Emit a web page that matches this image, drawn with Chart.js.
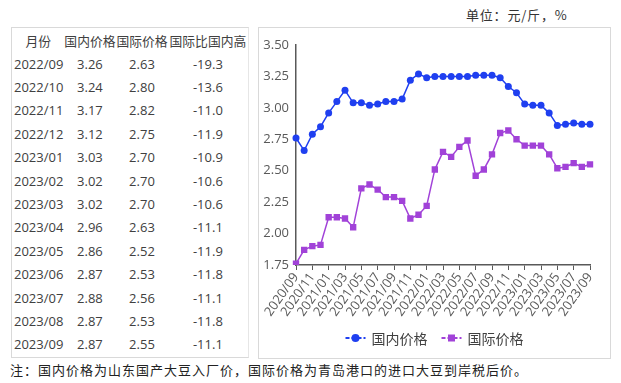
<!DOCTYPE html>
<html>
<head>
<meta charset="utf-8">
<script src="https://cdn.jsdelivr.net/npm/chart.js@4.4.1/dist/chart.umd.min.js"></script>
<style>
  html, body { margin: 0; padding: 0; background: #fff; }
  body { width: 621px; height: 383px; position: relative; overflow: hidden;
         font-family: "Open Sans", "Noto Sans CJK SC", sans-serif; color: #404040; }
  #unit { position: absolute; left: 466px; top: 5px; font-size: 13px; letter-spacing: 0.8px;
          font-family: "Noto Sans CJK SC", sans-serif; color: #333; }
  #note { position: absolute; left: 10px; top: 360px; font-size: 13px; letter-spacing: 1px;
          font-family: "Noto Sans CJK SC", sans-serif; color: #222; }
  #tableBox { position: absolute; left: 11px; top: 27px; width: 238px; height: 331px;
              border: 1px solid #d9d9d9; border-right-color: #e6e6e6; box-sizing: border-box; }
  #priceTable { position: absolute; left: 1px; top: 0px; border-collapse: collapse; font-size: 13px; }
  #priceTable td, #priceTable th { padding: 0; height: 23.4px; font-weight: normal; white-space: nowrap; }
  #priceTable th { font-family: "Noto Sans CJK SC", sans-serif; font-size: 12.8px; height: 24px; }
  #chartBox { position: absolute; left: 258px; top: 27px; width: 353px; height: 332px;
              border: 1px solid #d9d9d9; box-sizing: border-box; }
  #chartBox canvas { position: absolute; left: 0; top: 0; }
</style>
</head>
<body>
<div id="unit">单位：元/斤，%</div>
<div id="tableBox"><table id="priceTable"></table></div>
<div id="chartBox"><canvas id="priceChart" width="351" height="330"></canvas></div>
<div id="note">注：国内价格为山东国产大豆入厂价，国际价格为青岛港口的进口大豆到岸税后价。</div>

<script>
// --- TABLE DATA ---
const tableHeaders = ['月份', '国内价格', '国际价格', '国际比国内高'];
const tableMonths = ['2022/09', '2022/10', '2022/11', '2022/12', '2023/01', '2023/02', '2023/03',
                     '2023/04', '2023/05', '2023/06', '2023/07', '2023/08', '2023/09'];
const tableDomestic = ['3.26', '3.24', '3.17', '3.12', '3.03', '3.02', '3.02', '2.96', '2.86', '2.87', '2.88', '2.87', '2.87'];
const tableIntl = ['2.63', '2.80', '2.82', '2.75', '2.70', '2.70', '2.70', '2.63', '2.52', '2.53', '2.56', '2.53', '2.55'];
const tableDiff = ['-19.3', '-13.6', '-11.0', '-11.9', '-10.9', '-10.6', '-10.6', '-11.1', '-11.9', '-11.8', '-11.1', '-11.8', '-11.1'];

// --- CHART DATA ---
const months = ['2020/09', '2020/10', '2020/11', '2020/12', '2021/01', '2021/02', '2021/03', '2021/04',
                '2021/05', '2021/06', '2021/07', '2021/08', '2021/09', '2021/10', '2021/11', '2021/12',
                '2022/01', '2022/02', '2022/03', '2022/04', '2022/05', '2022/06', '2022/07', '2022/08',
                '2022/09', '2022/10', '2022/11', '2022/12', '2023/01', '2023/02', '2023/03', '2023/04',
                '2023/05', '2023/06', '2023/07', '2023/08', '2023/09'];
const domesticPrice = [2.76, 2.66, 2.79, 2.85, 2.96, 3.05, 3.14, 3.04, 3.04, 3.02, 3.03, 3.05, 3.05,
                       3.07, 3.22, 3.27, 3.24, 3.25, 3.25, 3.25, 3.25, 3.25, 3.26, 3.26,
                       3.26, 3.24, 3.17, 3.12, 3.03, 3.02, 3.02, 2.96, 2.86, 2.87, 2.88, 2.87, 2.87];
const intlPrice = [1.76, 1.87, 1.90, 1.91, 2.13, 2.13, 2.12, 2.05, 2.36, 2.39, 2.35, 2.29, 2.29,
                   2.26, 2.12, 2.15, 2.22, 2.51, 2.65, 2.61, 2.69, 2.74, 2.46, 2.51,
                   2.63, 2.80, 2.82, 2.75, 2.70, 2.70, 2.70, 2.63, 2.52, 2.53, 2.56, 2.53, 2.55];

const BLUE = '#1f3ff0';
const PURPLE = '#a142d8';
const AXIS = '#595959';

// --- BUILD TABLE ---
const table = document.getElementById('priceTable');
const colWidths = [51, 54, 52, 84];
let html = '<tr>' + tableHeaders.map((h, i) =>
    `<th style="width:${colWidths[i]}px;text-align:center">${h}</th>`).join('') + '</tr>';
tableMonths.forEach((m, i) => {
    html += `<tr><td style="text-align:left;padding-left:1px">${m}</td>` +
            `<td style="text-align:center">${tableDomestic[i]}</td>` +
            `<td style="text-align:center">${tableIntl[i]}</td>` +
            `<td style="text-align:center">${tableDiff[i]}</td></tr>`;
});
table.innerHTML = html;

// --- LEGEND: line + marker, drawn under the x axis ---
const lineLegend = {
    id: 'lineLegend',
    afterDraw(chart) {
        const ctx = chart.ctx;
        const y = chart.height - 20;
        ctx.save();
        ctx.font = '14px "Noto Sans CJK SC", sans-serif';
        ctx.textBaseline = 'middle';
        const items = chart.data.datasets.map(ds => ({ ds, w: ctx.measureText(ds.label).width }));
        const total = items.reduce((s, it) => s + 26 + it.w, 0) + 14 * (items.length - 1);
        let x = chart.width / 2 - total / 2;
        items.forEach(({ ds, w }) => {
            ctx.strokeStyle = ds.borderColor;
            ctx.lineWidth = 2;
            ctx.setLineDash([4, 2]);
            ctx.beginPath();
            ctx.moveTo(x, y);
            ctx.lineTo(x + 20, y);
            ctx.stroke();
            ctx.setLineDash([]);
            ctx.fillStyle = ds.borderColor;
            if (ds.pointStyle === 'rect') {
                ctx.fillRect(x + 6.5, y - 3.5, 7, 7);
            } else {
                ctx.beginPath();
                ctx.arc(x + 10, y, 4, 0, Math.PI * 2);
                ctx.fill();
            }
            ctx.fillStyle = '#404040';
            ctx.fillText(ds.label, x + 26, y + 1);
            x += 26 + w + 14;
        });
        ctx.restore();
    }
};

new Chart(document.getElementById('priceChart'), {
    type: 'line',
    data: {
        labels: months,
        datasets: [
            {
                label: '国内价格',
                data: domesticPrice,
                borderColor: BLUE,
                backgroundColor: BLUE,
                borderWidth: 1.5,
                pointStyle: 'circle',
                pointRadius: 3.5,
                pointBorderWidth: 0,
                tension: 0
            },
            {
                label: '国际价格',
                data: intlPrice,
                borderColor: PURPLE,
                backgroundColor: PURPLE,
                borderWidth: 1.5,
                pointStyle: 'rect',
                pointRadius: 4.5,
                pointBorderWidth: 0,
                tension: 0
            }
        ]
    },
    options: {
        responsive: false,
        animation: false,
        layout: { padding: { top: 17, right: 20, bottom: 40, left: 0 } },
        scales: {
            x: {
                offset: false,
                grid: {
                    drawOnChartArea: false,
                    drawTicks: true,
                    tickLength: 5,
                    color: ctx => (ctx.index % 2 === 0 ? AXIS : 'rgba(0,0,0,0)')
                },
                border: { display: true, color: AXIS, width: 1.5 },
                ticks: {
                    autoSkip: false,
                    maxRotation: 55,
                    minRotation: 55,
                    padding: 0,
                    color: AXIS,
                    font: { family: '"Open Sans", sans-serif', size: 13 },
                    callback: (v, i) => (i % 2 === 0 ? months[i] : '')
                },
                afterFit: scale => { scale.height = 53; }
            },
            y: {
                min: 1.75,
                max: 3.5,
                grid: { display: false, drawTicks: false },
                border: { display: true, color: AXIS, width: 1.5 },
                ticks: {
                    stepSize: 0.25,
                    padding: 7,
                    color: AXIS,
                    font: { family: '"Open Sans", sans-serif', size: 13 },
                    callback: v => v.toFixed(2)
                },
                afterFit: scale => { scale.width = 37; }
            }
        },
        plugins: {
            legend: { display: false },
            tooltip: { enabled: false }
        }
    },
    plugins: [lineLegend]
});
</script>
</body>
</html>
